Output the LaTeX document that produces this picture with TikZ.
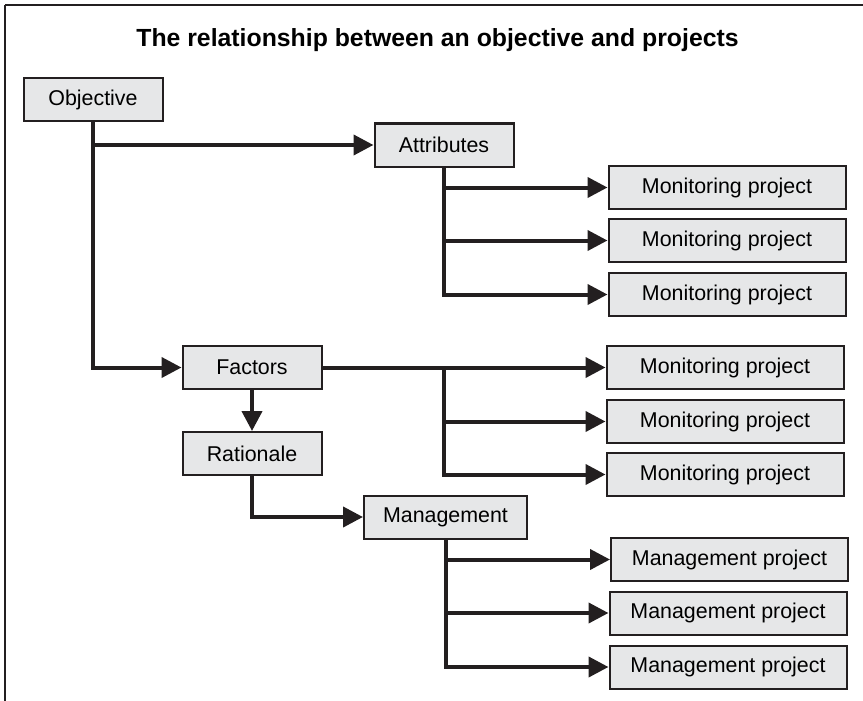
\documentclass[tikz,border=0pt]{standalone}
\usepackage{fontspec}
\setmainfont{Liberation Sans}
\usetikzlibrary{arrows.meta,positioning}
\definecolor{ink}{RGB}{35,31,32}
\definecolor{boxgray}{RGB}{230,231,232}
\begin{document}
\begin{tikzpicture}[x=1pt,y=-1pt,>={Triangle[length=20pt,width=20pt]},
  box/.style={draw=ink,line width=2pt,fill=boxgray,minimum height=43pt,inner sep=0pt,font=\fontsize{21.4}{24}\selectfont},
  small/.style={box,minimum width=139pt},
  proj/.style={box,minimum width=237pt},
  link/.style={->,draw=ink,line width=4pt}]
\useasboundingbox (0,0) rectangle (863,701);
\draw[ink,line width=2.5pt] (863,5) -- (5,5);
\draw[ink,line width=1.5pt] (5,5) -- (5,701);
\node[font=\bfseries\fontsize{24.8}{28}\selectfont,anchor=base] (title) at (437.5,47) {The relationship between an objective and projects};
\node[small] (obj) at (93,99.5) {Objective};
\node[small] (att) at (444,145) {Attributes};
\node[proj] (a1) at (727,187.5) {Monitoring project};
\node[proj] (a2) at (727,240.5) {Monitoring project};
\node[proj] (a3) at (727,294.5) {Monitoring project};
\node[small] (fac) at (252,367.5) {Factors};
\node[small] (rat) at (252,453.5) {Rationale};
\node[proj] (f1) at (725,367.5) {Monitoring project};
\node[proj] (f2) at (725,421.5) {Monitoring project};
\node[proj] (f3) at (725,474.5) {Monitoring project};
\node[box,minimum width=163pt] (man) at (445.5,517) {Management};
\node[proj] (m1) at (729.5,559.5) {Management project};
\node[proj] (m2) at (728,613) {Management project};
\node[proj] (m3) at (728,667) {Management project};
\coordinate (fj) at (att.south |- fac.east);
\draw[link] (obj.south) |- (fac.west);
\draw[link] (obj.south |- att.west) -- (att.west);
\foreach \p in {a1,a2,a3} \draw[link] (att.south) |- (\p.west);
\draw[link] (fac.east) -- (f1.west);
\foreach \p in {f2,f3} \draw[link] (fj) |- (\p.west);
\draw[link] (fac.south) -- (rat.north);
\draw[link] (rat.south) |- (man.west);
\foreach \p in {m1,m2,m3} \draw[link] (man.south) |- (\p.west);
\end{tikzpicture}
\end{document}
